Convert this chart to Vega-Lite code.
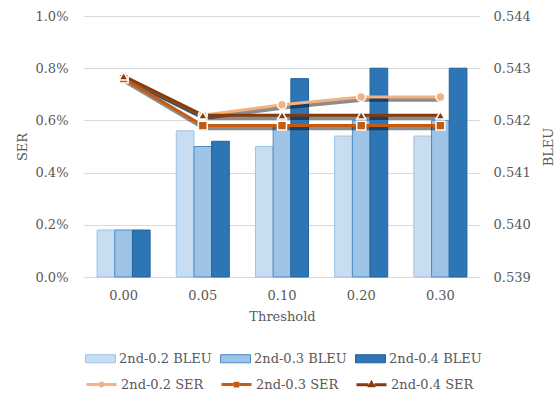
{
  "$schema": "https://vega.github.io/schema/vega-lite/v6.json",
  "width": 396,
  "height": 261,
  "autosize": "none",
  "padding": {"left": 84, "top": 16, "right": 77, "bottom": 119},
  "config": {
    "font": "DejaVu Serif",
    "view": {"stroke": null},
    "axis": {
      "labelFont": "DejaVu Serif",
      "labelFontSize": 13,
      "labelColor": "#595959",
      "titleFont": "DejaVu Serif",
      "titleFontSize": 13,
      "titleColor": "#595959",
      "titleFontWeight": "normal",
      "ticks": false,
      "domain": false
    },
    "legend": {
      "labelFont": "DejaVu Serif",
      "labelFontSize": 13,
      "labelColor": "#595959",
      "padding": 0
    }
  },
  "datasets": {
    "bleu": [
      {"threshold": "0.00", "series": "2nd-0.2 BLEU", "bleu": 0.5399},
      {"threshold": "0.00", "series": "2nd-0.3 BLEU", "bleu": 0.5399},
      {"threshold": "0.00", "series": "2nd-0.4 BLEU", "bleu": 0.5399},
      {"threshold": "0.05", "series": "2nd-0.2 BLEU", "bleu": 0.5418},
      {"threshold": "0.05", "series": "2nd-0.3 BLEU", "bleu": 0.5415},
      {"threshold": "0.05", "series": "2nd-0.4 BLEU", "bleu": 0.5416},
      {"threshold": "0.10", "series": "2nd-0.2 BLEU", "bleu": 0.5415},
      {"threshold": "0.10", "series": "2nd-0.3 BLEU", "bleu": 0.5419},
      {"threshold": "0.10", "series": "2nd-0.4 BLEU", "bleu": 0.5428},
      {"threshold": "0.20", "series": "2nd-0.2 BLEU", "bleu": 0.5417},
      {"threshold": "0.20", "series": "2nd-0.3 BLEU", "bleu": 0.542},
      {"threshold": "0.20", "series": "2nd-0.4 BLEU", "bleu": 0.543},
      {"threshold": "0.30", "series": "2nd-0.2 BLEU", "bleu": 0.5417},
      {"threshold": "0.30", "series": "2nd-0.3 BLEU", "bleu": 0.542},
      {"threshold": "0.30", "series": "2nd-0.4 BLEU", "bleu": 0.543}
    ],
    "ser": [
      {"threshold": "0.00", "series": "2nd-0.2 SER", "ser": 0.0077},
      {"threshold": "0.05", "series": "2nd-0.2 SER", "ser": 0.0062},
      {"threshold": "0.10", "series": "2nd-0.2 SER", "ser": 0.0066},
      {"threshold": "0.20", "series": "2nd-0.2 SER", "ser": 0.0069},
      {"threshold": "0.30", "series": "2nd-0.2 SER", "ser": 0.0069},
      {"threshold": "0.00", "series": "2nd-0.3 SER", "ser": 0.0076},
      {"threshold": "0.05", "series": "2nd-0.3 SER", "ser": 0.0058},
      {"threshold": "0.10", "series": "2nd-0.3 SER", "ser": 0.0058},
      {"threshold": "0.20", "series": "2nd-0.3 SER", "ser": 0.0058},
      {"threshold": "0.30", "series": "2nd-0.3 SER", "ser": 0.0058},
      {"threshold": "0.00", "series": "2nd-0.4 SER", "ser": 0.0077},
      {"threshold": "0.05", "series": "2nd-0.4 SER", "ser": 0.0062},
      {"threshold": "0.10", "series": "2nd-0.4 SER", "ser": 0.0062},
      {"threshold": "0.20", "series": "2nd-0.4 SER", "ser": 0.0062},
      {"threshold": "0.30", "series": "2nd-0.4 SER", "ser": 0.0062}
    ]
  },
  "encoding": {
    "x": {
      "field": "threshold",
      "type": "nominal",
      "scale": {"paddingInner": 0.33, "paddingOuter": 0.165},
      "axis": {
        "title": "Threshold",
        "labelAngle": 0,
        "domain": true,
        "domainColor": "#D9D9D9",
        "labelPadding": 12,
        "titlePadding": 8
      }
    }
  },
  "layer": [
    {
      "data": {"name": "bleu"},
      "mark": {"type": "bar", "strokeWidth": 1},
      "encoding": {
        "xOffset": {"field": "series", "type": "nominal", "scale": {"paddingInner": 0, "paddingOuter": 0}},
        "y": {
          "field": "bleu",
          "type": "quantitative",
          "scale": {"domain": [0.539, 0.544], "zero": false},
          "axis": {
            "orient": "right",
            "title": "BLEU",
            "titleAngle": 270,
            "format": ".3f",
            "values": [0.539, 0.54, 0.541, 0.542, 0.543, 0.544],
            "grid": false,
            "labelPadding": 13,
            "titlePadding": 25
          }
        },
        "y2": {"datum": 0.539},
        "fill": {
          "field": "series",
          "type": "nominal",
          "scale": {"range": ["#C9DDF1", "#9DC3E6", "#2E75B6"]},
          "legend": {
            "orient": "none",
            "legendX": 1,
            "legendY": 327,
            "direction": "horizontal",
            "columns": 3,
            "title": null,
            "symbolType": "M-1,-0.27H1V0.27H-1Z",
            "symbolSize": 900,
            "symbolStrokeWidth": 1,
            "labelOffset": 3,
            "columnPadding": 6
          }
        },
        "stroke": {
          "field": "series",
          "type": "nominal",
          "scale": {"range": ["#9DC3E6", "#4A8AC8", "#24639E"]}
        }
      }
    },
    {
      "data": {"name": "ser"},
      "encoding": {
        "y": {
          "field": "ser",
          "type": "quantitative",
          "scale": {"domain": [0, 0.01]},
          "axis": {
            "orient": "left",
            "title": "SER",
            "format": ".1%",
            "values": [0, 0.002, 0.004, 0.006, 0.008, 0.01],
            "grid": true,
            "gridColor": "#D9D9D9",
            "labelPadding": 16,
            "titlePadding": 5
          }
        }
      },
      "layer": [
        {
          "mark": {"type": "line", "color": "#000000", "opacity": 0.45, "strokeWidth": 4.5, "xOffset": 1.5, "yOffset": 2.5},
          "encoding": {"detail": {"field": "series", "type": "nominal"}}
        },
        {
          "mark": {"type": "line", "strokeWidth": 3},
          "encoding": {
            "color": {
              "field": "series",
              "type": "nominal",
              "scale": {"range": ["#F4B183", "#C55A11", "#843C0C"]},
              "legend": {
                "orient": "none",
                "legendX": 1,
                "legendY": 352,
                "direction": "horizontal",
                "columns": 3,
                "title": null,
                "symbolType": "M-1,0H1",
                "symbolSize": 900,
                "symbolStrokeWidth": 3,
                "labelOffset": 3,
                "columnPadding": 11,
                "encode": {
                  "symbols": {
                    "update": {
                      "shape": {"signal": "datum.value === '2nd-0.2 SER' ? 'M-1,0H-0.2M0.2,0H1M-0.1,0A0.1,0.1,0,1,1,0.1,0A0.1,0.1,0,1,1,-0.1,0Z' : datum.value === '2nd-0.3 SER' ? 'M-1,0H-0.2M0.2,0H1M-0.09,-0.09H0.09V0.09H-0.09Z' : 'M-1,0H-0.2M0.2,0H1M0,-0.12L0.11,0.08H-0.11Z'"},
                      "fill": {"signal": "datum.value === '2nd-0.2 SER' ? '#F4B183' : datum.value === '2nd-0.3 SER' ? '#C55A11' : '#843C0C'"}
                    }
                  }
                }
              }
            }
          }
        },
        {
          "mark": {"type": "point", "filled": true, "size": 80, "stroke": "#FFFFFF", "strokeWidth": 1.5, "opacity": 1},
          "encoding": {
            "color": {"field": "series", "type": "nominal"},
            "shape": {
              "field": "series",
              "type": "nominal",
              "scale": {"range": ["circle", "square", "triangle-up"]},
              "legend": null
            }
          }
        }
      ]
    }
  ],
  "resolve": {"scale": {"y": "independent"}}
}
